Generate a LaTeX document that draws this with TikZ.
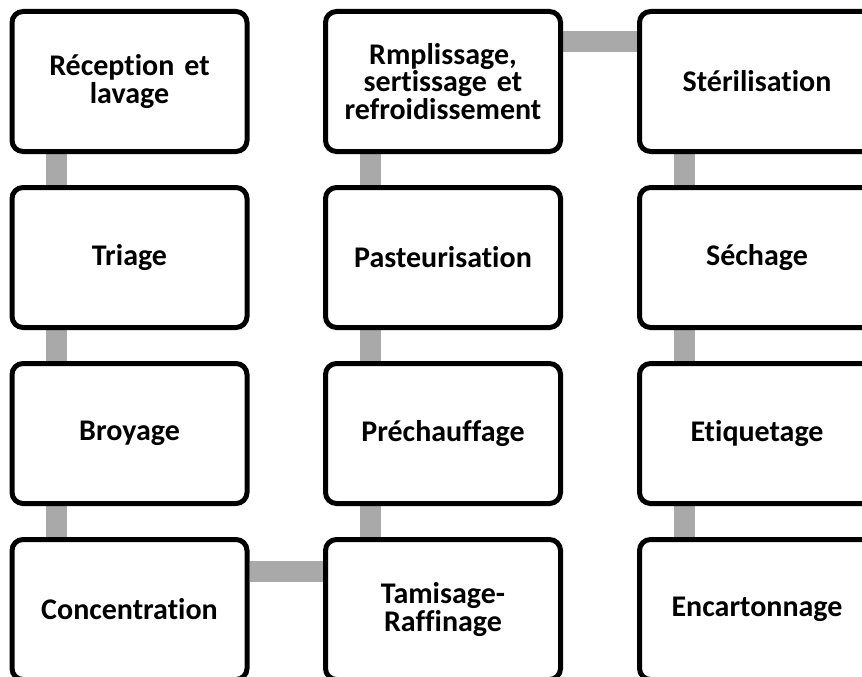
\documentclass[tikz,border=0pt]{standalone}
\usepackage{fontspec}
\setmainfont{Carlito}[Ligatures={NoCommon}]
\usetikzlibrary{backgrounds}
\definecolor{linkgray}{RGB}{169,169,169}
\tikzset{
  stepbox/.style={draw=black, line width=5pt, rounded corners=11pt, fill=white,
    minimum width=235pt, minimum height=140pt, inner sep=0pt,
    align=center, text width=225pt,
    font=\bfseries\fontsize{30pt}{27.5pt}\selectfont},
  link/.style={draw=linkgray, line width=21pt, line cap=butt}
}
\begin{document}
\begin{tikzpicture}[x=1pt, y=-1pt]
\useasboundingbox (0,0) rectangle (862,677);
\clip (0,0) rectangle (862,677);
% column 1
\node[stepbox] (a1) at (129.5,81.5) {Réception et\\lavage};
\node[stepbox] (a2) at (129.5,257.5) {Triage};
\node[stepbox] (a3) at (129.5,433.5) {Broyage};
\node[stepbox] (a4) at (129.5,609.5) {Concentration};
% column 2
\node[stepbox] (b1) at (443,81.5) {Rmplissage,\\sertissage et\\refroidissement};
\node[stepbox] (b2) at (443,257.5) {Pasteurisation};
\node[stepbox] (b3) at (443,433.5) {Préchauffage};
\node[stepbox] (b4) at (443,609.5) {Tamisage-\\Raffinage};
% column 3
\node[stepbox] (c1) at (757,81.5) {Stérilisation};
\node[stepbox] (c2) at (757,257.5) {Séchage};
\node[stepbox] (c3) at (757,433.5) {Etiquetage};
\node[stepbox] (c4) at (757,609.5) {Encartonnage};
\begin{scope}[on background layer]
  \draw[link] ([xshift=47pt]a1.south west) -- ([xshift=47pt]a2.north west);
  \draw[link] ([xshift=47pt]a2.south west) -- ([xshift=47pt]a3.north west);
  \draw[link] ([xshift=47pt]a3.south west) -- ([xshift=47pt]a4.north west);
  \draw[link] ([yshift=-34.5pt]a4.north east) -- ([yshift=-34.5pt]b4.north west);
  \draw[link] ([xshift=47pt]b4.north west) -- ([xshift=47pt]b3.south west);
  \draw[link] ([xshift=47pt]b3.north west) -- ([xshift=47pt]b2.south west);
  \draw[link] ([xshift=47pt]b2.north west) -- ([xshift=47pt]b1.south west);
  \draw[link] ([yshift=-32.5pt]b1.north east) -- ([yshift=-32.5pt]c1.north west);
  \draw[link] ([xshift=47pt]c1.south west) -- ([xshift=47pt]c2.north west);
  \draw[link] ([xshift=47pt]c2.south west) -- ([xshift=47pt]c3.north west);
  \draw[link] ([xshift=47pt]c3.south west) -- ([xshift=47pt]c4.north west);
\end{scope}
\end{tikzpicture}
\end{document}
